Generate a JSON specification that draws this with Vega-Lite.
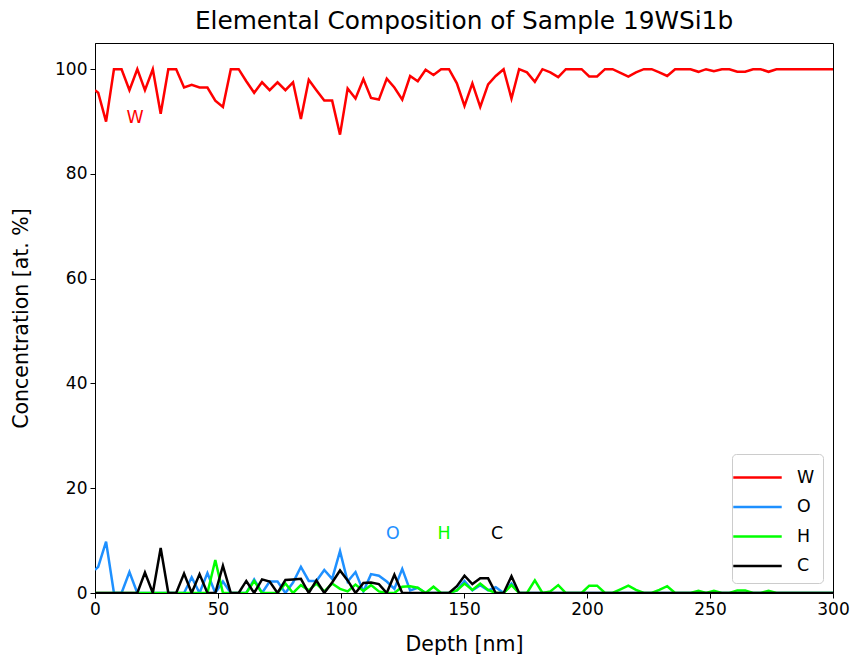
{
  "$schema": "https://vega.github.io/schema/vega-lite/v6.json",
  "width": 738,
  "height": 550,
  "autosize": "none",
  "padding": {"left": 95, "top": 43, "right": 22, "bottom": 67},
  "background": "white",
  "title": {"text": "Elemental Composition of Sample 19WSi1b", "font": "DejaVu Sans", "fontSize": 24.8, "fontWeight": "normal", "color": "black", "offset": 9},
  "config": {
    "view": {"stroke": "black", "strokeWidth": 1},
    "axis": {"labelFont": "DejaVu Sans", "titleFont": "DejaVu Sans", "labelFontSize": 17, "titleFontSize": 20.5, "titleFontWeight": "normal", "labelColor": "black", "titleColor": "black", "domainColor": "black", "tickColor": "black", "grid": false, "tickSize": 5, "labelPadding": 3, "labelFlush": false}
  },
  "datasets": {
    "comp": [
      {"depth": 0, "W": 96, "O": 4.4, "H": 0, "C": 0},
      {"depth": 1.3, "W": 95.5, "O": 5.0, "H": 0, "C": 0},
      {"depth": 4.5, "W": 90, "O": 9.8, "H": 0, "C": 0},
      {"depth": 7.7, "W": 100, "O": 0, "H": 0, "C": 0},
      {"depth": 10.8, "W": 100, "O": 0, "H": 0, "C": 0},
      {"depth": 14.0, "W": 96, "O": 4.0, "H": 0, "C": 0},
      {"depth": 17.2, "W": 100, "O": 0, "H": 0, "C": 0},
      {"depth": 20.3, "W": 96, "O": 0, "H": 0, "C": 3.9},
      {"depth": 23.5, "W": 100, "O": 0, "H": 0, "C": 0},
      {"depth": 26.7, "W": 91.5, "O": 0, "H": 0, "C": 8.6},
      {"depth": 29.8, "W": 100, "O": 0, "H": 0, "C": 0},
      {"depth": 33.0, "W": 100, "O": 0, "H": 0, "C": 0},
      {"depth": 36.2, "W": 96.5, "O": 0, "H": 0, "C": 3.7},
      {"depth": 39.3, "W": 97, "O": 3.0, "H": 0, "C": 0},
      {"depth": 42.5, "W": 96.5, "O": 0, "H": 0, "C": 3.6},
      {"depth": 45.7, "W": 96.5, "O": 3.8, "H": 0, "C": 0},
      {"depth": 48.9, "W": 94, "O": 0, "H": 6.3, "C": 0},
      {"depth": 52.0, "W": 92.8, "O": 2.2, "H": 0, "C": 5.2},
      {"depth": 55.2, "W": 100, "O": 0, "H": 0, "C": 0},
      {"depth": 58.4, "W": 100, "O": 0, "H": 0, "C": 0},
      {"depth": 61.5, "W": 97.7, "O": 0, "H": 0, "C": 2.3},
      {"depth": 64.7, "W": 95.5, "O": 2.6, "H": 2.3, "C": 0},
      {"depth": 67.9, "W": 97.5, "O": 0, "H": 0, "C": 2.6},
      {"depth": 71.0, "W": 96, "O": 2.2, "H": 0, "C": 2.2},
      {"depth": 74.2, "W": 97.5, "O": 2.2, "H": 0, "C": 0},
      {"depth": 77.4, "W": 96, "O": 0, "H": 1.8, "C": 2.5},
      {"depth": 80.5, "W": 97.5, "O": 2.0, "H": 0, "C": 2.6},
      {"depth": 83.7, "W": 90.5, "O": 5.0, "H": 1.5, "C": 2.7},
      {"depth": 86.9, "W": 98, "O": 2.3, "H": 0.5, "C": 0},
      {"depth": 90.0, "W": 96, "O": 2.3, "H": 1.8, "C": 2.4},
      {"depth": 93.2, "W": 94, "O": 4.4, "H": 0.3, "C": 0},
      {"depth": 96.4, "W": 94, "O": 2.7, "H": 1.8, "C": 2.0},
      {"depth": 99.6, "W": 87.5, "O": 8.0, "H": 0.8, "C": 4.3},
      {"depth": 102.7, "W": 96.3, "O": 2.2, "H": 0.3, "C": 2.4},
      {"depth": 105.9, "W": 94.4, "O": 4.0, "H": 1.6, "C": 0},
      {"depth": 109.1, "W": 98.1, "O": 0.3, "H": 0.4, "C": 1.9},
      {"depth": 112.2, "W": 94.5, "O": 3.6, "H": 1.5, "C": 2.0},
      {"depth": 115.4, "W": 94.2, "O": 3.3, "H": 0.3, "C": 1.7},
      {"depth": 118.6, "W": 98.2, "O": 2.2, "H": 0, "C": 0},
      {"depth": 121.7, "W": 96.5, "O": 0.8, "H": 0, "C": 3.5},
      {"depth": 124.9, "W": 94.2, "O": 4.6, "H": 1.2, "C": 0},
      {"depth": 128.1, "W": 98.7, "O": 0.5, "H": 1.3, "C": 0},
      {"depth": 131.2, "W": 97.7, "O": 1.0, "H": 1.0, "C": 0},
      {"depth": 134.4, "W": 99.9, "O": 0, "H": 0, "C": 0},
      {"depth": 137.6, "W": 98.9, "O": 0, "H": 1.2, "C": 0},
      {"depth": 140.7, "W": 100, "O": 0, "H": 0, "C": 0},
      {"depth": 143.9, "W": 100, "O": 0, "H": 0, "C": 0},
      {"depth": 147.1, "W": 97.3, "O": 0.5, "H": 0.5, "C": 1.3},
      {"depth": 150.2, "W": 93, "O": 2.3, "H": 1.8, "C": 3.3},
      {"depth": 153.4, "W": 97.3, "O": 0.5, "H": 0.6, "C": 1.7},
      {"depth": 156.6, "W": 92.8, "O": 1.5, "H": 1.8, "C": 2.8},
      {"depth": 159.8, "W": 97.1, "O": 0.5, "H": 0.6, "C": 2.8},
      {"depth": 162.9, "W": 98.7, "O": 1.1, "H": 0, "C": 0},
      {"depth": 166.1, "W": 100, "O": 0, "H": 0, "C": 0},
      {"depth": 169.3, "W": 94.4, "O": 1.8, "H": 1.5, "C": 3.2},
      {"depth": 172.4, "W": 100, "O": 0, "H": 0, "C": 0},
      {"depth": 175.6, "W": 99.4, "O": 0, "H": 0, "C": 0},
      {"depth": 178.8, "W": 97.6, "O": 0, "H": 2.4, "C": 0},
      {"depth": 181.9, "W": 100, "O": 0, "H": 0, "C": 0},
      {"depth": 185.1, "W": 99.4, "O": 0, "H": 0.3, "C": 0},
      {"depth": 188.3, "W": 98.5, "O": 0, "H": 1.5, "C": 0},
      {"depth": 191.4, "W": 100, "O": 0, "H": 0, "C": 0},
      {"depth": 194.6, "W": 100, "O": 0, "H": 0, "C": 0},
      {"depth": 197.8, "W": 100, "O": 0, "H": 0, "C": 0},
      {"depth": 200.9, "W": 98.6, "O": 0, "H": 1.4, "C": 0},
      {"depth": 204.1, "W": 98.6, "O": 0, "H": 1.4, "C": 0},
      {"depth": 207.3, "W": 100, "O": 0, "H": 0, "C": 0},
      {"depth": 210.4, "W": 100, "O": 0, "H": 0, "C": 0},
      {"depth": 213.6, "W": 99.3, "O": 0, "H": 0.7, "C": 0},
      {"depth": 216.8, "W": 98.6, "O": 0, "H": 1.4, "C": 0},
      {"depth": 219.9, "W": 99.4, "O": 0, "H": 0.6, "C": 0},
      {"depth": 223.1, "W": 100, "O": 0, "H": 0, "C": 0},
      {"depth": 226.3, "W": 100, "O": 0, "H": 0, "C": 0},
      {"depth": 229.4, "W": 99.4, "O": 0, "H": 0.6, "C": 0},
      {"depth": 232.6, "W": 98.7, "O": 0, "H": 1.3, "C": 0},
      {"depth": 235.8, "W": 100, "O": 0, "H": 0, "C": 0},
      {"depth": 238.9, "W": 100, "O": 0, "H": 0, "C": 0},
      {"depth": 242.1, "W": 100, "O": 0, "H": 0, "C": 0},
      {"depth": 245.3, "W": 99.5, "O": 0, "H": 0.4, "C": 0},
      {"depth": 248.4, "W": 100, "O": 0, "H": 0, "C": 0},
      {"depth": 251.6, "W": 99.6, "O": 0, "H": 0.4, "C": 0},
      {"depth": 254.8, "W": 100, "O": 0, "H": 0, "C": 0},
      {"depth": 257.9, "W": 100, "O": 0, "H": 0, "C": 0},
      {"depth": 261.1, "W": 99.5, "O": 0, "H": 0.5, "C": 0},
      {"depth": 264.3, "W": 99.5, "O": 0, "H": 0.5, "C": 0},
      {"depth": 267.5, "W": 100, "O": 0, "H": 0, "C": 0},
      {"depth": 270.6, "W": 100, "O": 0, "H": 0, "C": 0},
      {"depth": 273.8, "W": 99.5, "O": 0, "H": 0.4, "C": 0},
      {"depth": 277.0, "W": 100, "O": 0, "H": 0, "C": 0},
      {"depth": 280.1, "W": 100, "O": 0, "H": 0, "C": 0},
      {"depth": 283.3, "W": 100, "O": 0, "H": 0, "C": 0},
      {"depth": 286.5, "W": 100, "O": 0, "H": 0, "C": 0},
      {"depth": 289.6, "W": 100, "O": 0, "H": 0, "C": 0},
      {"depth": 292.8, "W": 100, "O": 0, "H": 0, "C": 0},
      {"depth": 296.0, "W": 100, "O": 0, "H": 0, "C": 0},
      {"depth": 299.1, "W": 100, "O": 0, "H": 0, "C": 0},
      {"depth": 302.3, "W": 100, "O": 0, "H": 0, "C": 0}
    ],
    "labels": [
      {"label": "W", "depth": 16.3, "value": 90.6},
      {"label": "O", "depth": 121.1, "value": 11.3},
      {"label": "H", "depth": 141.9, "value": 11.3},
      {"label": "C", "depth": 163.4, "value": 11.3}
    ]
  },
  "layer": [
    {
      "data": {"name": "comp"},
      "transform": [{"fold": ["W", "O", "H", "C"], "as": ["element", "conc"]}],
      "mark": {"type": "line", "strokeWidth": 2.5, "clip": true},
      "encoding": {
        "x": {"field": "depth", "type": "quantitative", "scale": {"domain": [0, 300], "nice": false, "zero": false}, "axis": {"title": "Depth [nm]", "values": [0, 50, 100, 150, 200, 250, 300], "titlePadding": 17}},
        "y": {"field": "conc", "type": "quantitative", "scale": {"domain": [0, 105], "nice": false}, "axis": {"title": "Concentration [at. %]", "values": [0, 20, 40, 60, 80, 100], "titlePadding": 23}},
        "color": {"field": "element", "type": "nominal", "sort": ["W", "O", "H", "C"], "scale": {"domain": ["W", "O", "H", "C"], "range": ["#ff0000", "#1e90ff", "#00ff00", "#000000"]},
          "legend": {"title": null, "orient": "bottom-right", "offset": 10, "symbolType": "M-1.73,0H1.73", "symbolSize": 784, "symbolStrokeWidth": 2.5, "symbolOffset": 2, "labelOffset": 24, "labelFont": "DejaVu Sans", "labelFontSize": 17.4, "labelColor": "black", "rowPadding": 5.5, "padding": 8, "fillColor": "rgba(255,255,255,0.8)", "strokeColor": "#cccccc", "cornerRadius": 4}
        },
        "order": {"field": "depth", "type": "quantitative"}
      }
    },
    {
      "data": {"name": "labels"},
      "mark": {"type": "text", "font": "DejaVu Sans", "fontSize": 17.4, "align": "center", "baseline": "middle"},
      "encoding": {
        "x": {"field": "depth", "type": "quantitative"},
        "y": {"field": "value", "type": "quantitative"},
        "text": {"field": "label"},
        "fill": {"field": "label", "type": "nominal", "scale": {"domain": ["W", "O", "H", "C"], "range": ["#ff0000", "#1e90ff", "#00ff00", "#000000"]}, "legend": null}
      }
    }
  ],
  "resolve": {"scale": {"fill": "independent"}}
}
